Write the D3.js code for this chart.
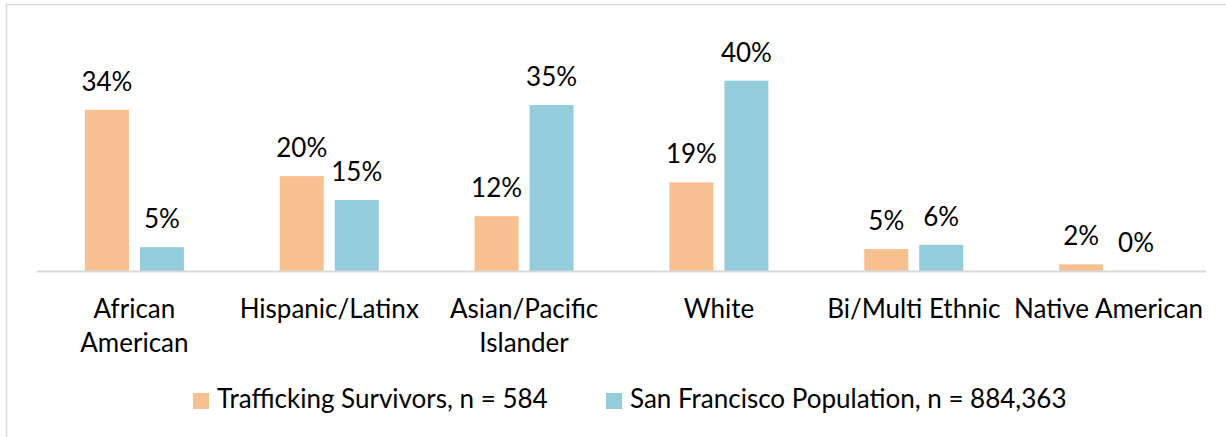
<!DOCTYPE html>
<html lang="en">
<head>
<meta charset="utf-8">
<style type="text/css">
  body { margin: 0; background: #fff; }
  text {
    font-family: Lato, "Open Sans", sans-serif;
    fill: #000;
  }
  .frame { fill: none; stroke: #d9d9d9; stroke-width: 1.5px; }
  .base { stroke: #d9d9d9; stroke-width: 2px; }
</style>
<script src="https://cdn.jsdelivr.net/npm/d3@7"></script>
</head>
<body>
<div id="chart"></div>
<script>
// data
var categories = [["African", "American"], ["Hispanic/Latinx"], ["Asian/Pacific", "Islander"],
                  ["White"], ["Bi/Multi Ethnic"], ["Native American"]];
var seriesNames = ["Trafficking Survivors, n = 584", "San Francisco Population, n = 884,363"];
var survivors = [33.9, 20.0, 11.6, 18.7, 4.7, 1.5];
var sfPop = [5.1, 15.0, 34.9, 40.0, 5.6, 0.15];
var colors = ["#f9c08f", "#93cddc"];

var width = 1226, height = 437;
var base = 271.5;
var fs = 26;

var svg = d3.select("#chart").append("svg")
    .attr("width", width)
    .attr("height", height);

svg.append("rect").attr("class", "frame")
    .attr("x", 6.5).attr("y", 4.5)
    .attr("width", width + 20).attr("height", height + 20);

var x0 = d3.scaleBand()
    .domain(d3.range(categories.length))
    .range([37, 1206]);

var x1 = d3.scaleBand()
    .domain([0, 1])
    .range([-49.5, 49.5])
    .paddingInner(0.2);

var y = d3.scaleLinear().domain([0, 40]).range([base, 80.7]);

var rows = categories.map(function(c, i) {
  return {i: i, label: c, vals: [survivors[i], sfPop[i]]};
});

var g = svg.selectAll(".grp")
    .data(rows)
    .enter().append("g")
    .attr("class", "grp")
    .attr("transform", function(d) { return "translate(" + (x0(d.i) + x0.bandwidth() / 2) + ",0)"; });

g.selectAll("rect")
    .data(function(d) { return d.vals; })
    .enter().append("rect")
    .attr("x", function(d, j) { return x1(j); })
    .attr("width", x1.bandwidth())
    .attr("y", function(d) { return y(d); })
    .attr("height", function(d) { return base - y(d); })
    .style("fill", function(d, j) { return colors[j]; });

g.selectAll(".val")
    .data(function(d) { return d.vals; })
    .enter().append("text")
    .attr("class", "val")
    .attr("x", function(d, j) { return x1(j) + x1.bandwidth() / 2; })
    .attr("y", function(d) { return y(d) - 19; })
    .attr("text-anchor", "middle")
    .style("font-size", fs + "px")
    .text(function(d) { return Math.round(d) + "%"; });

svg.append("line").attr("class", "base")
    .attr("x1", 37).attr("x2", 1206)
    .attr("y1", base).attr("y2", base);

g.append("text")
    .attr("text-anchor", "middle")
    .style("font-size", fs + "px")
    .selectAll("tspan")
    .data(function(d) { return d.label; })
    .enter().append("tspan")
    .attr("x", 0)
    .attr("y", function(d, k) { return 318 + k * 34; })
    .text(function(d) { return d; });

// legend
var legX = [193, 606];
var leg = svg.selectAll(".leg")
    .data(seriesNames)
    .enter().append("g")
    .attr("class", "leg")
    .attr("transform", function(d, i) { return "translate(" + legX[i] + ",393)"; });

leg.append("rect")
    .attr("width", 16).attr("height", 16)
    .style("fill", function(d, i) { return colors[i]; });

leg.append("text")
    .attr("x", 24).attr("y", 14.5)
    .style("font-size", fs + "px")
    .text(function(d) { return d; });
</script>
</body>
</html>
